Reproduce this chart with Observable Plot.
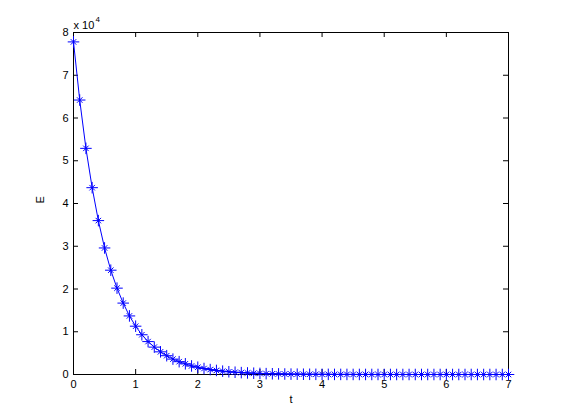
<!DOCTYPE html>
<html>
<head>
<meta charset="utf-8">
<script src="https://cdn.jsdelivr.net/npm/d3@7"></script>
<script src="https://cdn.jsdelivr.net/npm/@observablehq/plot@0.6"></script>
<style>
  html, body { margin: 0; padding: 0; background: #fff; }
  svg { display: block; }
</style>
</head>
<body>
<div id="chart"></div>
<script>
const tValues = [0.0,0.1,0.2,0.3,0.4,0.5,0.6,0.7,0.8,0.9,
  1.0,1.1,1.2,1.3,1.4,1.5,1.6,1.7,1.8,1.9,
  2.0,2.1,2.2,2.3,2.4,2.5,2.6,2.7,2.8,2.9,
  3.0,3.1,3.2,3.3,3.4,3.5,3.6,3.7,3.8,3.9,
  4.0,4.1,4.2,4.3,4.4,4.5,4.6,4.7,4.8,4.9,
  5.0,5.1,5.2,5.3,5.4,5.5,5.6,5.7,5.8,5.9,
  6.0,6.1,6.2,6.3,6.4,6.5,6.6,6.7,6.8,6.9,7.0];
const eValues = [77800,64200,52900,43700,36000,29600,24400,20200,16700,13700,
  11300,9300,7700,6400,5300,4400,3600,3000,2500,2000,
  1700,1400,1150,950,780,640,530,440,360,300,
  250,200,170,140,110,90,75,60,50,40,
  35,30,25,20,17,14,11,9,8,6,
  5,4,3,3,2,2,2,1,1,1,
  1,1,1,1,1,1,0,0,0,0,0];
const xTicks = [0,1,2,3,4,5,6,7];
const yTicks = [0,10000,20000,30000,40000,50000,60000,70000,80000];
const xLabel = "t";
const yLabel = "E";
const exponentBase = "x 10";
const exponentPower = "4";

const data = tValues.map((t, i) => ({t, E: eValues[i]}));
const blue = "#0000ff";

const chart = Plot.plot({
  width: 561,
  height: 420,
  marginLeft: 73,
  marginRight: 53,
  marginTop: 32,
  marginBottom: 46,
  style: {fontFamily: "'Liberation Sans', Arial, sans-serif", fontSize: "11px", background: "#fff", color: "#000"},
  x: {domain: [0, 7], label: null},
  y: {domain: [0, 80000], label: null},
  marks: [
    Plot.frame({stroke: "#000", strokeWidth: 1}),
    Plot.axisX(xTicks, {anchor: "bottom", tickSize: 0, tickPadding: 6, fill: "#000", label: null}),
    Plot.axisY(yTicks, {anchor: "left", tickSize: 0, tickPadding: 5, fill: "#000", tickFormat: d => d / 10000, label: null}),
    Plot.tickX(xTicks, {x: d => d, insetTop: 337, stroke: "#000"}),
    Plot.tickX(xTicks, {x: d => d, insetBottom: 337, stroke: "#000"}),
    Plot.tickY(yTicks, {y: d => d, insetRight: 430, stroke: "#000"}),
    Plot.tickY(yTicks, {y: d => d, insetLeft: 430, stroke: "#000"}),
    Plot.line(data, {x: "t", y: "E", stroke: blue, strokeWidth: 1}),
    Plot.dot(data, {x: "t", y: "E", symbol: "plus", r: 3.8, stroke: blue, strokeWidth: 1}),
    Plot.dot(data, {x: "t", y: "E", symbol: "times", r: 2.6, stroke: blue, strokeWidth: 1}),
    Plot.text([xLabel], {frameAnchor: "bottom", dy: 28, fill: "#000", text: d => d}),
    Plot.text([yLabel], {frameAnchor: "left", dx: -33, rotate: -90, fill: "#000", text: d => d}),
    Plot.text([exponentBase], {frameAnchor: "top-left", dx: 0, dy: -11, textAnchor: "start", fill: "#000", text: d => d}),
    Plot.text([exponentPower], {frameAnchor: "top-left", dx: 22, dy: -16, textAnchor: "start", fontSize: 8, fill: "#000", text: d => d})
  ]
});
document.getElementById("chart").appendChild(chart);
</script>
</body>
</html>
